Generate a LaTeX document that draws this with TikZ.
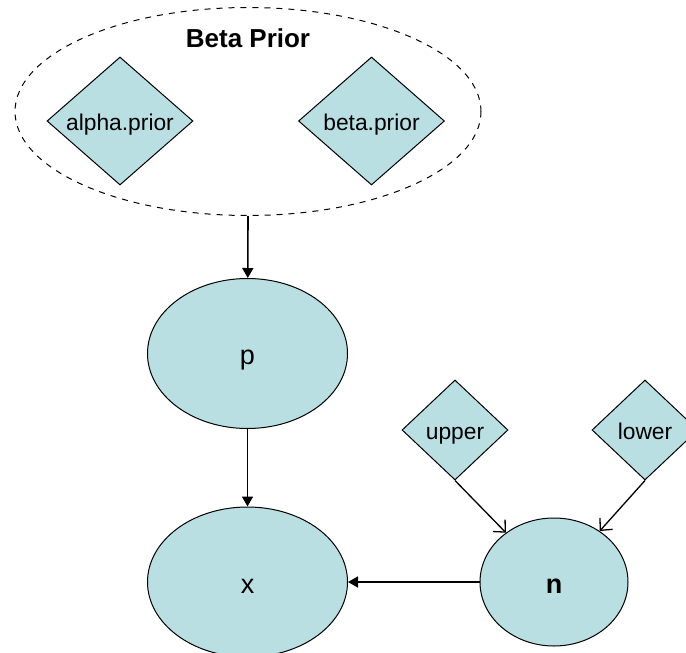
\documentclass[tikz,border=0pt]{standalone}
\usepackage{fontspec}
\setmainfont{Liberation Sans}
\usepackage{tikz}
\usetikzlibrary{shapes.geometric, arrows.meta, positioning}
\usepackage{xcolor}
\definecolor{nodecyan}{RGB}{185,223,227}
\tikzstyle{const}    = [diamond, draw=black, fill=nodecyan, line width=0.5pt, inner sep=0pt,
                         text height=9pt, text depth=0pt,
                         minimum width=73pt, minimum height=64pt, font=\fontsize{11.4}{13}\selectfont]
\tikzstyle{smallconst} = [const, minimum width=53pt, minimum height=50pt]
\tikzstyle{stoch}    = [ellipse, draw=black, fill=nodecyan, line width=0.5pt,
                         text height=11pt, text depth=0pt,
                         minimum width=100pt, minimum height=75pt, font=\fontsize{13.5}{15}\selectfont]
\tikzstyle{group}    = [ellipse, draw=black, dashed, line width=0.5pt,
                         minimum width=233pt, minimum height=104pt]
\tikzstyle{arrow}    = [line width=0.8pt, -{Triangle[length=5pt,width=5.5pt]}]
\tikzstyle{openarrow} = [line width=0.65pt, -{Straight Barb[length=4.5pt,width=8.5pt]}]

\begin{document}
\begin{tikzpicture}[x=0.5pt, y=-0.5pt]
  \useasboundingbox (0,0) rectangle (686,653);

  % Prior group
  \node (prior) [group] at (248, 111.5) {};
  \node (priorlabel) at (248, 38) {\fontsize{13}{15}\selectfont\bfseries Beta Prior};
  \node (alpha) [const] at (120, 121)   {alpha.prior};
  \node (beta)  [const] at (371.5, 121) {beta.prior};

  % Stochastic nodes
  \node (p) [stoch] at (247.5, 353.5) {p};
  \node (x) [stoch] at (247.5, 582)   {x};
  \node (n) [stoch, minimum width=74pt, minimum height=64pt] at (554, 582) {\bfseries n};

  % Bounds
  \node (upper) [smallconst] at (455, 430) {upper};
  \node (lower) [smallconst] at (645, 430) {lower};

  % Prior -> p
  \draw[arrow] (prior.south) -- (p);
  % p -> x
  \draw[arrow] (p) -- (x);
  % n -> x
  \draw[arrow] (n) -- (x);
  % upper -> n
  \draw[openarrow] (upper.south) -- (n);
  % lower -> n
  \draw[openarrow] (lower.south) -- (n);

\end{tikzpicture}
\end{document}
